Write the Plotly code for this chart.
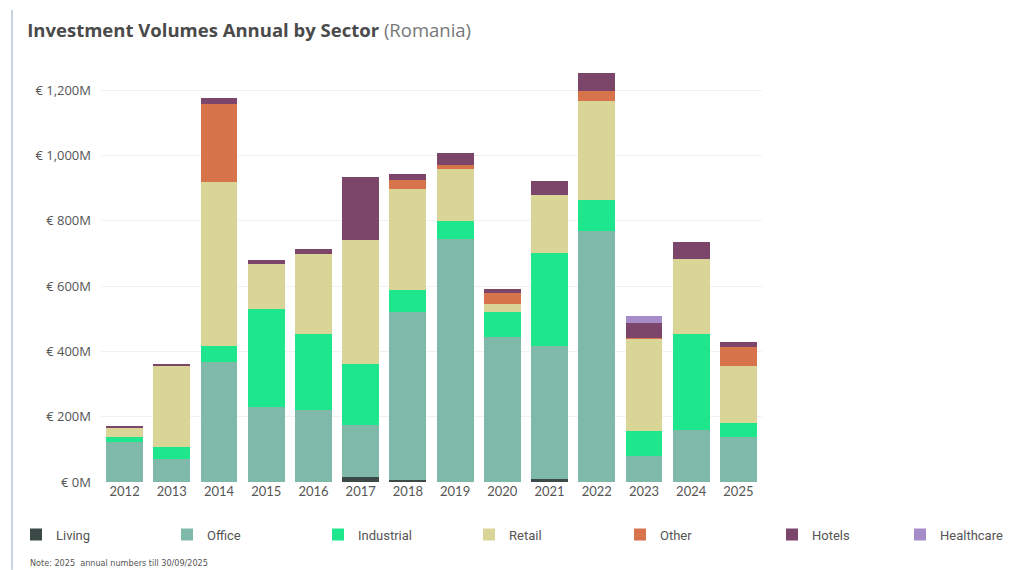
import plotly.graph_objects as go

years = ["2012", "2013", "2014", "2015", "2016", "2017", "2018", "2019",
         "2020", "2021", "2022", "2023", "2024", "2025"]

living     = [0, 0, 0, 0, 0, 15, 7, 0, 0, 10, 0, 0, 0, 0]
office     = [122, 71, 369, 229, 222, 161, 513, 745, 444, 408, 769, 81, 160, 139]
industrial = [17, 36, 49, 302, 230, 186, 67, 54, 76, 283, 96, 75, 292, 41]
retail     = [27, 247, 501, 138, 247, 380, 309, 158, 26, 177, 302, 283, 232, 174]
other      = [0, 0, 240, 0, 0, 0, 30, 13, 33, 0, 31, 3, 0, 59]
hotels     = [7, 8, 16, 10, 15, 192, 16, 36, 13, 44, 55, 44, 51, 15]
healthcare = [0, 0, 0, 0, 0, 0, 0, 0, 0, 0, 0, 22, 0, 0]

tick_vals = [0, 200, 400, 600, 800, 1000, 1200]
tick_text = ["€ 0M", "€ 200M", "€ 400M", "€ 600M", "€ 800M", "€ 1,000M", "€ 1,200M"]

series = [
    ("Living", living, "#3b4a47"),
    ("Office", office, "#7fb9a9"),
    ("Industrial", industrial, "#1ee68c"),
    ("Retail", retail, "#d9d596"),
    ("Other", other, "#d8744c"),
    ("Hotels", hotels, "#7b4669"),
    ("Healthcare", healthcare, "#a68dc9"),
]

# left edge (px) of each legend box, so squares line up with the reference
legend_left_px = [16, 167, 318, 469, 620, 772, 900]

fig = go.Figure()
legend_layouts = {}
for i, (name, vals, col) in enumerate(series):
    key = "legend" if i == 0 else f"legend{i + 1}"
    fig.add_trace(go.Bar(x=years, y=vals, name=name, marker_color=col,
                         marker_line_width=0, legend=key, showlegend=True))
    legend_layouts[key] = dict(
        orientation="h", xref="container", yref="container",
        x=legend_left_px[i] / 1009, xanchor="left", y=0.0886, yanchor="top",
        font=dict(family="Roboto, sans-serif", size=13, color="#555555"),
        bgcolor="rgba(0,0,0,0)", itemclick=False,
    )

fig.update_layout(
    barmode="stack",
    bargap=0.22,
    showlegend=True,
    width=1009, height=570,
    paper_bgcolor="white", plot_bgcolor="white",
    margin=dict(l=101, r=247, t=64, b=88, autoexpand=False),
    font=dict(family="Lato, sans-serif", color="#555555"),
    title=dict(
        text="<b>Investment Volumes Annual by Sector</b> <span style='color:#777777'>(Romania)</span>",
        xref="container", yref="container", x=0.027, y=0.947,
        xanchor="left", yanchor="middle",
        font=dict(family="Open Sans, sans-serif", size=18.5, color="#4a4a4a"),
    ),
    xaxis=dict(tickfont=dict(size=13, color="#555555"), showline=False, ticks="",
               showgrid=False),
    yaxis=dict(range=[0, 1280], tickvals=tick_vals, ticktext=tick_text,
               tickfont=dict(family="Open Sans, sans-serif", size=13, color="#555555"),
               showgrid=True, gridcolor="#f1f1f1", gridwidth=1, zeroline=False,
               ticks="", ticklabelstandoff=9),
    **legend_layouts,
)

fig.add_annotation(
    xref="paper", yref="paper", x=-0.110, y=-0.194, xanchor="left", yanchor="middle",
    text="Note: 2025  annual numbers till 30/09/2025",
    showarrow=False, font=dict(family="Liberation Sans Narrow, DejaVu Sans Condensed, sans-serif",
                               size=9, color="#555555"),
)
fig.add_shape(type="line", xref="paper", yref="paper", x0=-0.1346, x1=-0.1346,
              y0=-0.21, y1=1.129, line=dict(color="#c9d0e0", width=2))

fig.write_html("out.html", config={"displayModeBar": False},
               post_script="document.body.style.margin='0px';")
